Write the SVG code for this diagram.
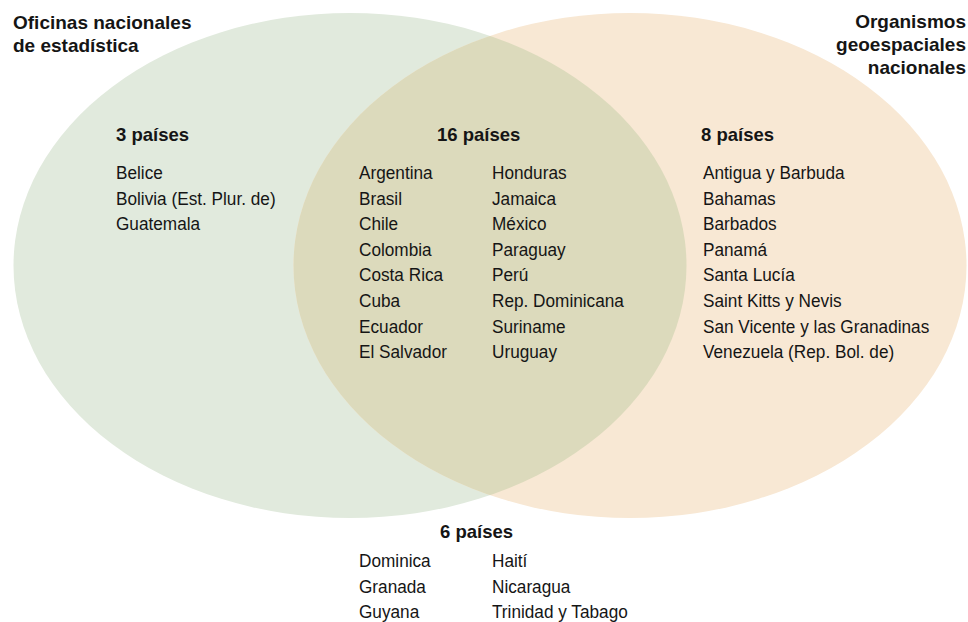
<svg xmlns="http://www.w3.org/2000/svg" width="968" height="622" viewBox="0 0 968 622">
<style>
text{font-family:"Liberation Sans",Arial,sans-serif;fill:#151515;font-size:18.5px;transform:scaleX(.93);transform-box:fill-box;transform-origin:0 0}
.h{font-weight:bold;transform:none}
.t{font-weight:bold;font-size:19px;transform:none}
.r{text-anchor:end}
</style>
<defs>
<clipPath id="cl"><ellipse cx="350" cy="265.5" rx="336.5" ry="252.5"/></clipPath>
</defs>
<g id="set-ine">
<ellipse cx="350" cy="265.5" rx="336.5" ry="252.5" fill="#e1eadd"/>
</g>
<g id="set-geo">
<ellipse cx="630" cy="265.5" rx="336.5" ry="252.5" fill="#f8e8d4"/>
</g>
<g id="set-both">
<ellipse cx="630" cy="265.5" rx="336.5" ry="252.5" fill="#dcdabc" clip-path="url(#cl)"/>
</g>
<g id="connectors"></g>
<g id="title-ine">
<text class="t" x="13" y="29">Oficinas nacionales</text>
<text class="t" x="13" y="52">de estadística</text>
</g>
<g id="title-geo">
<text class="t r" x="966" y="28">Organismos</text>
<text class="t r" x="966" y="51">geoespaciales</text>
<text class="t r" x="966" y="74">nacionales</text>
</g>
<g id="only-ine">
<text class="h" x="116" y="141">3 países</text>
<text x="116" y="179">Belice</text>
<text x="116" y="204.6">Bolivia (Est. Plur. de)</text>
<text x="116" y="230.2">Guatemala</text>
</g>
<g id="both">
<text class="h" x="437" y="141">16 países</text>
<text x="359" y="179">Argentina</text>
<text x="359" y="204.6">Brasil</text>
<text x="359" y="230.2">Chile</text>
<text x="359" y="255.8">Colombia</text>
<text x="359" y="281.4">Costa Rica</text>
<text x="359" y="307">Cuba</text>
<text x="359" y="332.6">Ecuador</text>
<text x="359" y="358.2">El Salvador</text>
<text x="492" y="179">Honduras</text>
<text x="492" y="204.6">Jamaica</text>
<text x="492" y="230.2">México</text>
<text x="492" y="255.8">Paraguay</text>
<text x="492" y="281.4">Perú</text>
<text x="492" y="307">Rep. Dominicana</text>
<text x="492" y="332.6">Suriname</text>
<text x="492" y="358.2">Uruguay</text>
</g>
<g id="only-geo">
<text class="h" x="701" y="141">8 países</text>
<text x="703" y="179">Antigua y Barbuda</text>
<text x="703" y="204.6">Bahamas</text>
<text x="703" y="230.2">Barbados</text>
<text x="703" y="255.8">Panamá</text>
<text x="703" y="281.4">Santa Lucía</text>
<text x="703" y="307">Saint Kitts y Nevis</text>
<text x="703" y="332.6">San Vicente y las Granadinas</text>
<text x="703" y="358.2">Venezuela (Rep. Bol. de)</text>
</g>
<g id="neither">
<text class="h" x="440" y="538">6 países</text>
<text x="359" y="567">Dominica</text>
<text x="359" y="592.6">Granada</text>
<text x="359" y="618.2">Guyana</text>
<text x="492" y="567">Haití</text>
<text x="492" y="592.6">Nicaragua</text>
<text x="492" y="618.2">Trinidad y Tabago</text>
</g>
</svg>
